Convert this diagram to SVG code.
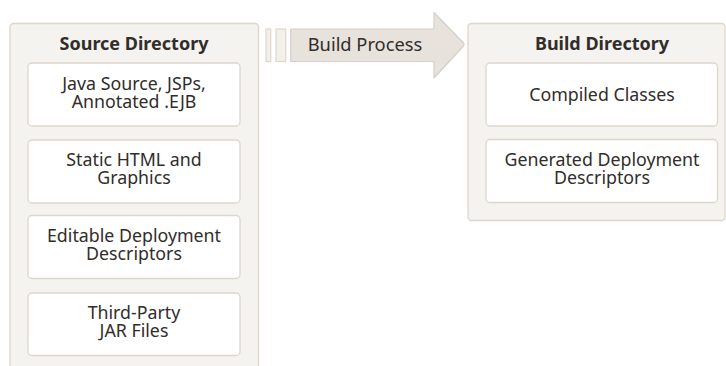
<svg xmlns="http://www.w3.org/2000/svg" width="726" height="366" viewBox="0 0 726 366">
<style>
.cont{fill:#f5f3ef;stroke:#ddd6cd;stroke-width:1.3}
.box{fill:#ffffff;stroke:#ddd6cd;stroke-width:1.3}
.t{font-family:"Noto Sans","Open Sans",sans-serif;font-size:17.8px;fill:#312d2a;text-anchor:middle}
.bp{font-family:"Noto Sans","Open Sans",sans-serif;font-size:18.3px;fill:#312d2a;text-anchor:middle}
.h{font-family:"Noto Sans","Open Sans",sans-serif;font-size:18px;font-weight:bold;fill:#312d2a;text-anchor:middle}
.stripe{fill:#f3f0ec;stroke:#ddd6cd;stroke-width:1.2}
.arrow{fill:#e7e2dc;stroke:#d8d0c7;stroke-width:1.2;stroke-linejoin:round}
</style>
<rect width="726" height="366" fill="#ffffff"/>
<g id="source-directory">
<path class="cont" d="M10,372 V27 a3.5,3.5 0 0 1 3.5,-3.5 H255 a3.5,3.5 0 0 1 3.5,3.5 V372"/>
<text class="h" x="134" y="50">Source Directory</text>
</g>
<g id="java-source">
<rect class="box" x="28" y="63" width="212" height="63" rx="4"/>
<text class="t"><tspan x="134" y="90.3">Java Source, JSPs,</tspan><tspan x="134" y="108.3">Annotated .EJB</tspan></text>
</g>
<g id="static-html">
<rect class="box" x="28" y="140" width="212" height="63" rx="4"/>
<text class="t"><tspan x="134" y="166.3">Static HTML and</tspan><tspan x="134" y="184.3">Graphics</tspan></text>
</g>
<g id="editable-dd">
<rect class="box" x="28" y="215.5" width="212" height="63" rx="4"/>
<text class="t"><tspan x="134" y="241.8">Editable Deployment</tspan><tspan x="134" y="259.8">Descriptors</tspan></text>
</g>
<g id="third-party-jar">
<rect class="box" x="28" y="293" width="212" height="62.5" rx="4"/>
<text class="t"><tspan x="134" y="318.8">Third-Party</tspan><tspan x="134" y="336.8">JAR Files</tspan></text>
</g>
<g id="connectors">
<g id="build-process">
<rect class="stripe" x="266" y="29" width="4.7" height="32.5"/>
<rect class="stripe" x="276" y="29" width="9.7" height="32.5"/>
<path class="arrow" d="M290.7,29 H434 V12.5 L463.5,43 Q464.8,44.5 463.5,46 L434,78 V61.5 H290.7 Z"/>
<text class="bp" x="365" y="51">Build Process</text>
</g>
</g>
<g id="build-directory">
<rect class="cont" x="468" y="23.5" width="257" height="197" rx="3.5"/>
<text class="h" x="602" y="50">Build Directory</text>
</g>
<g id="compiled-classes">
<rect class="box" x="486" y="63" width="231.5" height="63" rx="4"/>
<text class="t" x="602" y="101">Compiled Classes</text>
</g>
<g id="generated-dd">
<rect class="box" x="486" y="139.5" width="231.5" height="63" rx="4"/>
<text class="t"><tspan x="602" y="166.3">Generated Deployment</tspan><tspan x="602" y="184.3">Descriptors</tspan></text>
</g>
</svg>
